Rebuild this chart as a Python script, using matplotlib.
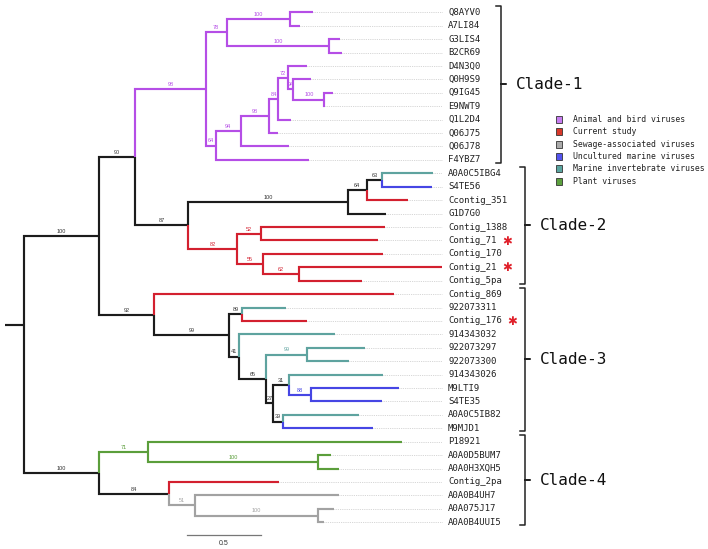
import matplotlib
matplotlib.use("Agg")
import matplotlib.pyplot as plt
from matplotlib.patches import Rectangle

#%% --- Data: tree as edge lists (parent, child, branch length, host group, bootstrap) ---

backbone_edges = [
    ("root", "A", 0.505, "none", 100),
    ("A", "B", 0.242, "none", 90),
    ("A", "T", 0.372, "none", 92),
    ("root", "BB", 0.507, "none", 100),
]

clade1_edges = [
    ("B", "C", 0.476, "animal", 98),
    ("C", "D", 0.141, "animal", 78),
    ("D", "D1", 0.428, "animal", 100),
    ("D1", "Q8AYV0", 0.151, "animal", None),
    ("D1", "A7LI84", 0.065, "animal", None),
    ("D", "D2", 0.688, "animal", 100),
    ("D2", "G3LIS4", 0.074, "animal", None),
    ("D2", "B2CR69", 0.085, "animal", None),
    ("C", "E", 0.067, "animal", 64),
    ("E", "F", 0.170, "animal", 94),
    ("F", "G", 0.188, "animal", 98),
    ("G", "H", 0.063, "animal", 84),
    ("H", "I", 0.063, "animal", 72),
    ("I", "D4N3Q0", 0.128, "animal", None),
    ("I", "J", 0.038, "animal", 94),
    ("J", "Q0H9S9", 0.119, "animal", None),
    ("J", "K", 0.209, "animal", 100),
    ("K", "Q9IG45", 0.061, "animal", None),
    ("K", "E9NWT9", 0.005, "animal", None),
    ("H", "Q1L2D4", 0.085, "animal", None),
    ("G", "Q06J75", 0.059, "animal", None),
    ("F", "Q06J78", 0.321, "animal", None),
    ("E", "F4YBZ7", 0.628, "animal", None),
]

clade2_edges = [
    ("B", "L", 0.357, "none", 87),
    ("L", "M", 1.075, "none", 100),
    ("M", "N", 0.128, "none", 64),
    ("N", "O", 0.101, "none", 63),
    ("O", "A0A0C5IBG4", 0.343, "marine_inv", None),
    ("O", "S4TE56", 0.336, "unc_marine", None),
    ("N", "Ccontig_351", 0.280, "current", None),
    ("M", "G1D7G0", 0.258, "none", None),
    ("L", "P", 0.328, "current", 82),
    ("P", "Q", 0.164, "current", 52),
    ("Q", "Contig_1388", 0.834, "current", None),
    ("Q", "Contig_71", 0.789, "current", None),
    ("P", "R", 0.175, "current", 55),
    ("R", "Contig_170", 0.812, "current", None),
    ("R", "S", 0.246, "current", 62),
    ("S", "Contig_21", 0.958, "current", None),
    ("S", "Contig_5pa", 0.420, "current", None),
]

clade3_edges = [
    ("T", "Contig_869", 1.613, "current", None),
    ("T", "U", 0.505, "none", 99),
    ("U", "V", 0.087, "none", 89),
    ("V", "922073311", 0.292, "marine_inv", None),
    ("V", "Contig_176", 0.437, "current", None),
    ("U", "W", 0.067, "none", 41),
    ("W", "914343032", 0.644, "marine_inv", None),
    ("W", "X", 0.178, "none", 65),
    ("X", "Y", 0.276, "marine_inv", 99),
    ("Y", "922073297", 0.392, "marine_inv", None),
    ("Y", "922073300", 0.285, "marine_inv", None),
    ("X", "Z", 0.047, "none", 27),
    ("Z", "AA", 0.110, "none", 31),
    ("AA", "914343026", 0.635, "marine_inv", None),
    ("AA", "AC", 0.148, "unc_marine", 88),
    ("AC", "M9LTI9", 0.592, "unc_marine", None),
    ("AC", "S4TE35", 0.476, "unc_marine", None),
    ("Z", "AB", 0.071, "none", 39),
    ("AB", "A0A0C5IB82", 0.509, "marine_inv", None),
    ("AB", "M9MJD1", 0.606, "unc_marine", None),
]

clade4_edges = [
    ("BB", "CC", 0.330, "plant", 71),
    ("CC", "P18921", 1.709, "plant", None),
    ("CC", "EE", 1.144, "plant", 100),
    ("EE", "A0A0D5BUM7", 0.085, "plant", None),
    ("EE", "A0A0H3XQH5", 0.141, "plant", None),
    ("BB", "DD", 0.469, "none", 84),
    ("DD", "Contig_2pa", 0.742, "current", None),
    ("DD", "FF", 0.175, "sewage", 51),
    ("FF", "A0A0B4UH7", 0.971, "sewage", None),
    ("FF", "GG", 0.826, "sewage", 100),
    ("GG", "A0A075J17", 0.112, "sewage", None),
    ("GG", "A0A0B4UUI5", 0.042, "sewage", None),
]

starred_leaves = ["Contig_71", "Contig_21", "Contig_176"]

clades = [("Clade-1", "Q8AYV0", "F4YBZ7"),
          ("Clade-2", "A0A0C5IBG4", "Contig_5pa"),
          ("Clade-3", "Contig_869", "M9MJD1"),
          ("Clade-4", "P18921", "A0A0B4UUI5")]

legend_groups = ["animal", "current", "sewage", "unc_marine", "marine_inv", "plant"]
legend_labels = ["Animal and bird viruses", "Current study", "Sewage-associated viruses",
                 "Uncultured marine viruses", "Marine invertebrate viruses", "Plant viruses"]

scale_bar_length = 0.5

#%% --- Colours and fonts ---

group_colors = {"none": "#1c1c1c",
                "animal": "#b54ee6",
                "current": "#d3202f",
                "sewage": "#a2a2a2",
                "unc_marine": "#4646e4",
                "marine_inv": "#5ea39f",
                "plant": "#5b9e3b"}
legend_face = {"animal": "#c77cf0", "current": "#d8382a", "sewage": "#aaaaaa",
               "unc_marine": "#5454ee", "marine_inv": "#5aa5a0", "plant": "#5ca03e"}
mono = "DejaVu Sans Mono"

#%% --- Build tree layout ---

edges = backbone_edges + clade1_edges + clade2_edges + clade3_edges + clade4_edges
kids = {}
info = {}
for p, c, l, g, s in edges:
    kids.setdefault(p, []).append(c)
    info[c] = (p, l, g, s)

depth = {"root": 0.0}
order = []

def walk(node):
    for c in kids.get(node, []):
        depth[c] = depth[node] + info[c][1]
        if c in kids:
            walk(c)
        else:
            order.append(c)

walk("root")
ypos = {leaf: i for i, leaf in enumerate(order)}

def set_y(node):
    if node in ypos:
        return ypos[node]
    ys = [set_y(c) for c in kids[node]]
    ypos[node] = (ys[0] + ys[-1]) / 2
    return ypos[node]

set_y("root")

#%% --- Figure ---

W, H = 708, 549
px_per_unit = 148.6
x0_px = 24
y0_px, leaf_step = 12.3, 13.42

fig = plt.figure(figsize=(W / 100, H / 100), dpi=100)
ax = fig.add_axes([0, 0, 1, 1])
ax.set_xlim(-x0_px / px_per_unit, (W - x0_px) / px_per_unit)
ax.set_ylim((H - y0_px) / leaf_step, -y0_px / leaf_step)
ax.axis("off")

def px_x(p):
    return (p - x0_px) / px_per_unit

def px_y(p):
    return (p - y0_px) / leaf_step

# --- branches ---
for p, c, l, g, s in edges:
    col = group_colors[g]
    ax.plot([depth[p], depth[p], depth[c]], [ypos[p], ypos[c], ypos[c]],
            color=col, lw=1.55, solid_joinstyle="miter", solid_capstyle="butt", zorder=3)
    if s is not None:
        ax.text((depth[p] + depth[c]) / 2, ypos[c] - 0.16, str(s),
                ha="center", va="bottom", fontsize=4.0, family="Liberation Sans",
                color=col if g != "none" else "#333333", zorder=4)

# root stub (drawn a little above the root's midpoint, as in the original figure)
root_stub_y = ypos["root"] - 2.2
ax.plot([px_x(5), 0], [root_stub_y, root_stub_y], color=group_colors["none"], lw=1.55,
        solid_capstyle="butt")

# --- leaf labels and dotted leaders ---
label_x = px_x(448)
for leaf in order:
    ax.plot([depth[leaf], px_x(442)], [ypos[leaf], ypos[leaf]], color="#c8c8c8",
            lw=0.6, ls=(0, (1, 1.2)), zorder=1)
    ax.text(label_x, ypos[leaf], leaf, ha="left", va="center", fontsize=6.5,
            family=mono, color="#222222")
    if leaf in starred_leaves:
        ax.text(label_x + (len(leaf) * 5.46 + 5) / px_per_unit, ypos[leaf] + 0.05,
                "\u2731", ha="left", va="center", fontsize=8.5, color="#e0202a",
                family="DejaVu Sans")

# --- clade brackets ---
for i, (name, first, last) in enumerate(clades):
    bx = px_x(501) if i == 0 else px_x(524.5)
    hook = 5 / px_per_unit
    nub = 5 / px_per_unit
    top = ypos[first] - 0.48
    bot = ypos[last] + 0.22
    mid = (top + bot) / 2
    ax.plot([bx - hook, bx, bx, bx + nub, bx, bx, bx - hook],
            [top, top, mid, mid, mid, bot, bot], color="#222222", lw=1.1,
            solid_joinstyle="round")
    ax.text(bx + 15 / px_per_unit, mid, name, ha="left", va="center",
            fontsize=11.5, family=mono, color="#111111")

# --- legend ---
for k, (g, lab) in enumerate(zip(legend_groups, legend_labels)):
    yc = px_y(119.5 + 12.35 * k)
    ax.add_patch(Rectangle((px_x(556), yc - 0.26), 6 / px_per_unit, 0.52,
                           facecolor=legend_face[g], edgecolor="#333333", lw=0.6))
    ax.text(px_x(573), yc, lab, ha="left", va="center", fontsize=5.9,
            family=mono, color="#222222")

# --- scale bar ---
sb_x = px_x(186.7)
sb_y = px_y(535)
ax.plot([sb_x, sb_x + scale_bar_length], [sb_y, sb_y], color="#777777", lw=0.9)
ax.text(sb_x + scale_bar_length / 2, sb_y + 0.35, str(scale_bar_length), ha="center",
        va="top", fontsize=5, family="Liberation Sans", color="#333333")

fig.savefig("out.png", dpi=100, facecolor="white")
